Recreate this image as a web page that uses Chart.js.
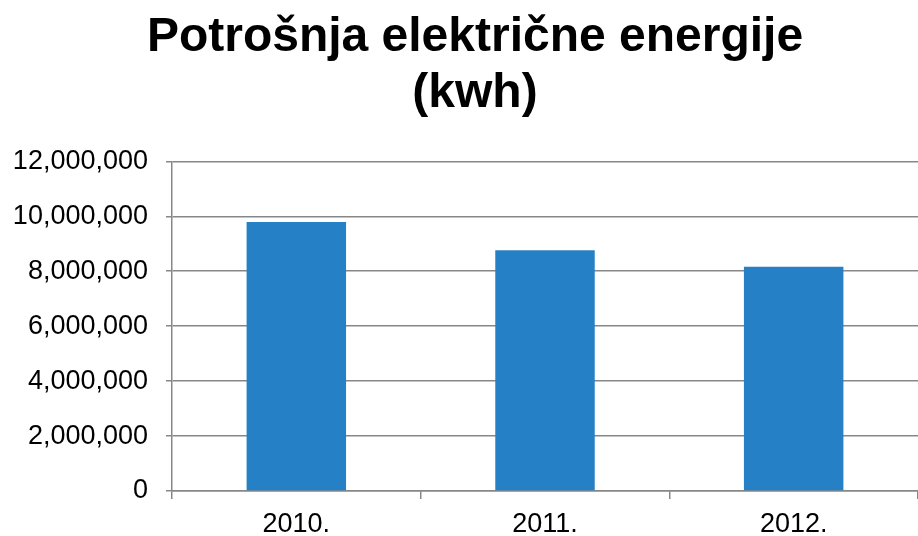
<!DOCTYPE html>
<html>
<head>
<meta charset="utf-8">
<script src="https://cdn.jsdelivr.net/npm/chart.js@4/dist/chart.umd.min.js"></script>
<style>
  html, body { margin: 0; padding: 0; background: #fff; }
  #wrap { width: 918px; height: 536px; }
</style>
</head>
<body>
<div id="wrap"><canvas id="grafik"></canvas></div>
<script>
const godine = ['2010.', '2011.', '2012.'];
const potrosnja = [9790000, 8760000, 8160000];
const yMin = 0;
const yMax = 12000000;
const yKorak = 2000000;

const boja = '#2680c6';
const sivaLinija = '#878787';

const ctx = document.getElementById('grafik').getContext('2d');

// y os počinje od lijevog ruba da se oznake ne odrežu
const osLijevo = {
    id: 'osLijevo',
    afterLayout(c) {
        c.scales.y.left = 0;
    }
};

const chart = new Chart(ctx, {
    type: 'bar',
    data: {
        labels: godine,
        datasets: [
            {
                label: 'Potrošnja (kwh)',
                data: potrosnja,
                backgroundColor: boja,
                borderWidth: 0,
                categoryPercentage: 1,
                barPercentage: 0.4
            }
        ]
    },
    options: {
        responsive: true,
        maintainAspectRatio: false,
        animation: false,
        layout: {
            // lijevi razmak pomiče naslov udesno kao na originalu
            padding: { left: 32, right: 0, top: 0, bottom: -14 }
        },
        scales: {
            x: {
                grid: {
                    offset: true,
                    drawOnChartArea: false,
                    color: sivaLinija,
                    lineWidth: 1.5,
                    tickLength: 8
                },
                border: { color: sivaLinija, width: 1.5 },
                ticks: {
                    color: '#000',
                    padding: 12,
                    font: { family: '"Liberation Sans", Arial, sans-serif', size: 27, lineHeight: 1 }
                }
            },
            y: {
                min: yMin,
                max: yMax,
                afterFit: scale => { scale.width = 140; },
                grid: {
                    color: sivaLinija,
                    lineWidth: 1.5,
                    tickLength: 6
                },
                border: { color: sivaLinija, width: 1.5 },
                ticks: {
                    stepSize: yKorak,
                    color: '#000',
                    padding: 18,
                    font: { family: '"Liberation Sans", Arial, sans-serif', size: 27 },
                    callback: v => v.toLocaleString('en-US')
                }
            }
        },
        plugins: {
            legend: { display: false },
            tooltip: { enabled: false },
            title: {
                display: true,
                text: ['Potrošnja električne energije', '(kwh)'],
                color: '#000',
                font: { family: '"Liberation Sans", Arial, sans-serif', size: 48, weight: 'bold', lineHeight: 1.17 },
                padding: { top: 10, bottom: 39 }
            }
        }
    },
    plugins: [osLijevo]
});
</script>
</body>
</html>
